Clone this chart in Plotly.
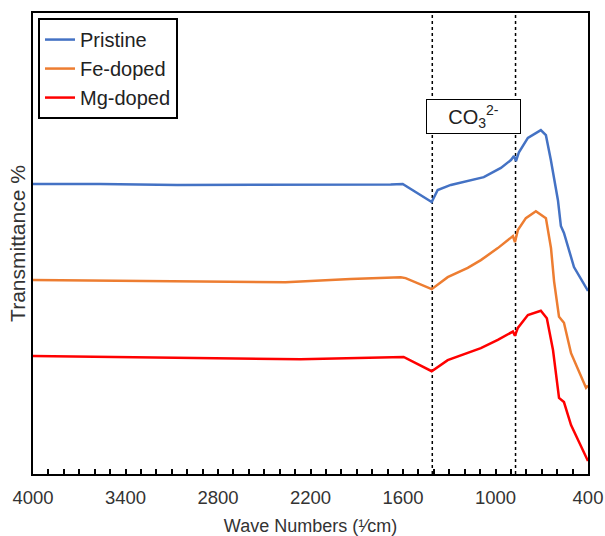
import plotly.graph_objects as go

# Wavenumbers (1/cm) and transmittance (arbitrary offset %)
pristine_wn = [4000, 3565, 3064, 2265, 1680, 1602, 1414, 1375, 1290, 1076, 965, 900, 880, 867, 848, 790, 706, 673, 641, 595, 576, 556, 491, 400]
pristine_t = [62.9, 62.9, 62.7, 62.7, 62.8, 62.9, 59.0, 61.6, 62.7, 64.4, 66.4, 68.1, 69.0, 67.9, 69.8, 72.9, 74.6, 73.5, 68.1, 59.4, 53.8, 52.3, 44.9, 39.7]

fe_wn = [4000, 3565, 3240, 2362, 1940, 1615, 1583, 1414, 1310, 1180, 1095, 985, 887, 874, 855, 803, 738, 673, 640, 620, 588, 556, 510, 445, 413, 400]
fe_t = [42.1, 42.0, 41.9, 41.6, 42.3, 42.7, 42.5, 40.1, 42.7, 44.7, 46.4, 49.0, 51.6, 50.3, 52.9, 55.5, 57.0, 55.5, 49.0, 41.8, 34.1, 32.8, 26.2, 21.0, 18.7, 19.2]

mg_wn = [4000, 3565, 2915, 2265, 1596, 1414, 1310, 1180, 1095, 985, 887, 874, 855, 790, 706, 667, 627, 588, 556, 510, 445, 400]
mg_t = [25.6, 25.4, 25.2, 24.9, 25.4, 22.3, 24.7, 26.2, 27.3, 29.1, 30.9, 30.0, 31.7, 34.5, 35.4, 33.8, 26.9, 16.5, 15.6, 10.6, 5.9, 2.8]

marker_lines = [1410, 870]
x_ticks = [4000, 3400, 2800, 2200, 1600, 1000, 400]

FONT = "Liberation Sans, Arial"

fig = go.Figure()
fig.add_trace(go.Scatter(x=pristine_wn, y=pristine_t, mode="lines", name="Pristine",
                         line=dict(color="#4472C4", width=2.5)))
fig.add_trace(go.Scatter(x=fe_wn, y=fe_t, mode="lines", name="Fe-doped",
                         line=dict(color="#ED7D31", width=2.5)))
fig.add_trace(go.Scatter(x=mg_wn, y=mg_t, mode="lines", name="Mg-doped",
                         line=dict(color="#FF0000", width=2.5)))

for xv in marker_lines:
    fig.add_shape(type="line", xref="x", yref="paper", x0=xv, x1=xv, y0=0, y1=1,
                  line=dict(color="black", width=1.5, dash="dot"), layer="below")

fig.add_annotation(x=1145, y=77.5, xref="x", yref="y", text="CO<sub>3</sub><sup>2-</sup>",
                   showarrow=False, bgcolor="white", bordercolor="black", borderwidth=1,
                   width=91, height=31, borderpad=1,
                   font=dict(size=20, color="#222222", family=FONT))

fig.update_layout(
    width=605, height=536,
    margin=dict(l=33, r=17, t=13, b=62),
    paper_bgcolor="white", plot_bgcolor="white",
    font=dict(family=FONT, size=18, color="#333333"),
    showlegend=True,
    legend=dict(x=0.009, y=0.989, xanchor="left", yanchor="top",
                bordercolor="black", borderwidth=2, bgcolor="white",
                font=dict(size=20, color="#222222"), tracegroupgap=0),
)
fig.update_xaxes(range=[4000, 400], tickvals=x_ticks, ticks="inside", ticklen=5,
                 tickcolor="black", tickwidth=1.5, automargin=False, ticklabelstandoff=6,
                 minor=dict(dtick=100, tick0=400, ticks="inside", ticklen=5, tickcolor="black", tickwidth=1.5),
                 showgrid=False, zeroline=False, showline=True, linecolor="black", linewidth=2,
                 mirror=True, tickfont=dict(size=18.5, color="#333333"),
                 title=dict(text="Wave Numbers (¹⁄cm)", font=dict(size=18, color="#333333"), standoff=14))
fig.update_yaxes(range=[0, 100], showticklabels=False, ticks="", showgrid=False, zeroline=False,
                 showline=True, linecolor="black", linewidth=2, mirror=True, automargin=False,
                 title=dict(text="Transmittance %", font=dict(size=21, color="#333333"), standoff=0))

fig.write_html("out.html")
